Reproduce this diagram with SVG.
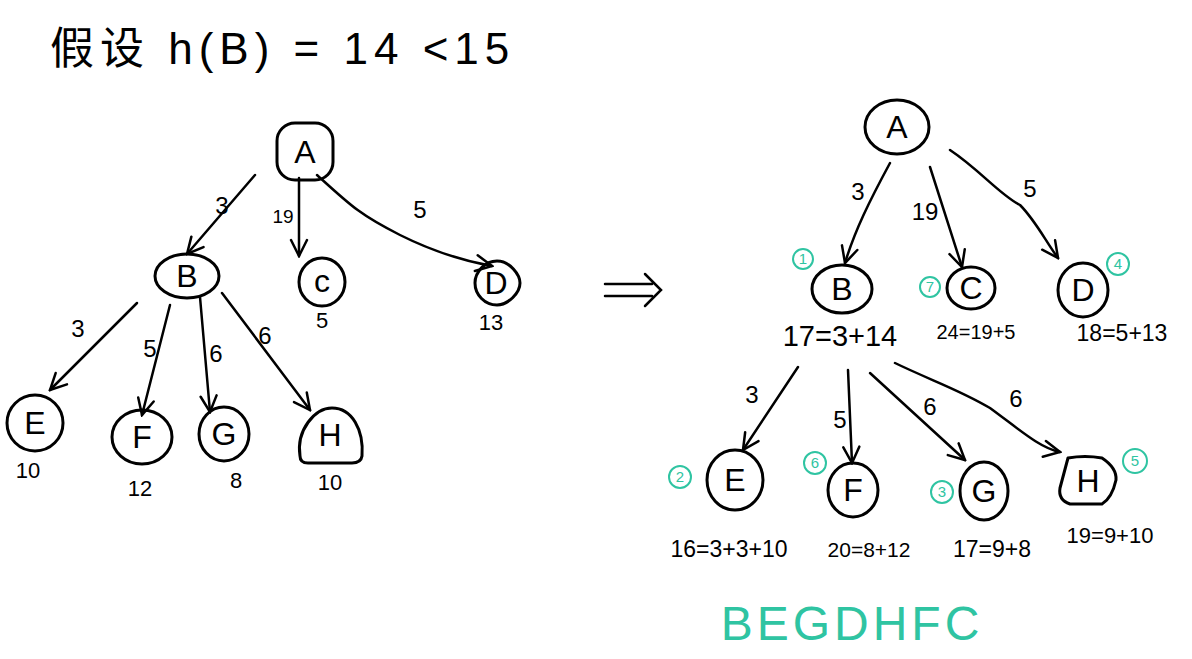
<svg xmlns="http://www.w3.org/2000/svg" width="1192" height="659" viewBox="0 0 1192 659">
<style>
.n{fill:none;stroke:#000;stroke-width:3;stroke-linejoin:round}
.e{fill:none;stroke:#000;stroke-width:2.5;stroke-linecap:round}
.t{font-family:"Liberation Sans","Noto Sans CJK SC",sans-serif;fill:#000;text-anchor:middle}
.lbl{font-size:32px}
.w{font-size:22px}
.v{font-size:24px}
.g{fill:none;stroke:#2fc4a2;stroke-width:2}
.gt{font-family:"Liberation Sans",sans-serif;fill:#2fc4a2;text-anchor:middle;font-size:15px}
</style>
<defs>
<marker id="ah" viewBox="0 0 20 20" refX="18" refY="10" markerWidth="20" markerHeight="20" markerUnits="userSpaceOnUse" orient="auto">
<path d="M2,2 L18,10 L2,18" fill="none" stroke="#000" stroke-width="2.5" stroke-linecap="round"/>
</marker>
</defs>
<rect width="1192" height="659" fill="#fff"/>
<text x="50" y="64" font-family="'Liberation Sans','Noto Sans CJK SC',sans-serif" font-size="44" letter-spacing="6" fill="#000">假设 h(B) = 14 &lt;15</text>

<g id="connectors">
<path class="e" d="M255,175 L187,254" marker-end="url(#ah)"/>
<path class="e" d="M299,178 L299,256" marker-end="url(#ah)"/>
<path class="e" d="M317,175 C350,205 360,215 400,235 C440,255 470,262 492,266" marker-end="url(#ah)"/>
<path class="e" d="M137,303 L50,390" marker-end="url(#ah)"/>
<path class="e" d="M170,305 L142,415" marker-end="url(#ah)"/>
<path class="e" d="M200,297 L210,412" marker-end="url(#ah)"/>
<path class="e" d="M222,293 L310,410" marker-end="url(#ah)"/>
<path class="e" d="M890,163 C870,200 855,230 845,263" marker-end="url(#ah)"/>
<path class="e" d="M930,167 L962,267" marker-end="url(#ah)"/>
<path class="e" d="M950,150 C980,170 1000,195 1020,205 C1035,220 1045,240 1058,258" marker-end="url(#ah)"/>
<path class="e" d="M798,367 L743,450" marker-end="url(#ah)"/>
<path class="e" d="M848,370 L852,463" marker-end="url(#ah)"/>
<path class="e" d="M870,373 L965,460" marker-end="url(#ah)"/>
<path class="e" d="M895,363 C930,380 960,390 990,408 C1020,430 1040,448 1060,452" marker-end="url(#ah)"/>
</g>

<g id="edge-labels">
<text class="t v" x="222" y="214">3</text>
<text class="t" x="283" y="223" font-size="19">19</text>
<text class="t v" x="420" y="218">5</text>
<text class="t v" x="78" y="337">3</text>
<text class="t v" x="150" y="357">5</text>
<text class="t v" x="216" y="362">6</text>
<text class="t v" x="265" y="344">6</text>
<text class="t v" x="858" y="200">3</text>
<text class="t v" x="925" y="220">19</text>
<text class="t v" x="1030" y="197">5</text>
<text class="t v" x="752" y="403">3</text>
<text class="t v" x="840" y="428">5</text>
<text class="t v" x="930" y="415">6</text>
<text class="t v" x="1016" y="407">6</text>
</g>

<g id="arrow-implies">
<path class="e" d="M605,284 L652,284 M605,296 L652,296 M645,274 L661,290 L645,306"/>
</g>

<g id="L-A"><rect class="n" x="277" y="123" width="56" height="57" rx="18"/><text class="t lbl" x="305" y="163">A</text></g>
<g id="L-B"><ellipse class="n" cx="187" cy="276" rx="32" ry="22"/><text class="t lbl" x="187" y="287">B</text></g>
<g id="L-C"><ellipse class="n" cx="322" cy="282" rx="23" ry="24"/><text class="t lbl" x="322" y="292">c</text><text class="t w" x="322" y="328">5</text></g>
<g id="L-D"><path class="n" d="M497,261 C510,261 520,275 520,283 C520,293 508,305 497,305 C485,305 475,295 475,283 C475,272 485,261 497,261 Z"/><text class="t lbl" x="496" y="294">D</text><text class="t w" x="491" y="330">13</text></g>
<g id="L-E"><ellipse class="n" cx="35" cy="423" rx="28" ry="28"/><text class="t lbl" x="35" y="434">E</text><text class="t w" x="28" y="478">10</text></g>
<g id="L-F"><ellipse class="n" cx="142" cy="437" rx="30" ry="27"/><text class="t lbl" x="142" y="448">F</text><text class="t w" x="140" y="496">12</text></g>
<g id="L-G"><ellipse class="n" cx="224" cy="434" rx="25" ry="27"/><text class="t lbl" x="224" y="445">G</text><text class="t w" x="236" y="488">8</text></g>
<g id="L-H"><path class="n" d="M300,456 C296,430 315,408 332,408 C352,408 364,430 362,456 Q361,463 352,463 L308,463 Q300,463 300,456 Z"/><text class="t lbl" x="330" y="446">H</text><text class="t w" x="330" y="490">10</text></g>

<g id="R-A"><ellipse class="n" cx="897" cy="127" rx="32" ry="27"/><text class="t lbl" x="897" y="138">A</text></g>
<g id="R-B"><ellipse class="n" cx="842" cy="289" rx="30" ry="24"/><text class="t lbl" x="842" y="300">B</text><text class="t" x="840" y="346" font-size="29">17=3+14</text></g>
<g id="R-C"><ellipse class="n" cx="971" cy="288" rx="24" ry="21"/><text class="t lbl" x="971" y="299">C</text><text class="t" x="976" y="339" font-size="20">24=19+5</text></g>
<g id="R-D"><ellipse class="n" cx="1083" cy="290" rx="25" ry="27"/><text class="t lbl" x="1083" y="301">D</text><text class="t" x="1122" y="341" font-size="23">18=5+13</text></g>
<g id="R-E"><ellipse class="n" cx="735" cy="480" rx="28" ry="30"/><text class="t lbl" x="735" y="491">E</text><text class="t" x="729" y="557" font-size="23">16=3+3+10</text></g>
<g id="R-F"><ellipse class="n" cx="853" cy="490" rx="25" ry="27"/><text class="t lbl" x="853" y="501">F</text><text class="t" x="869" y="557" font-size="21">20=8+12</text></g>
<g id="R-G"><ellipse class="n" cx="984" cy="491" rx="24" ry="29"/><text class="t lbl" x="984" y="502">G</text><text class="t" x="992" y="557" font-size="23">17=9+8</text></g>
<g id="R-H"><path class="n" d="M1068,458 Q1085,455 1102,458 Q1117,468 1116,480 Q1112,498 1102,504 L1070,504 Q1058,500 1060,488 Z"/><text class="t lbl" x="1088" y="492">H</text><text class="t" x="1110" y="543" font-size="22">19=9+10</text></g>

<g id="order-marks">
<circle class="g" cx="803" cy="259" r="10"/><text class="gt" x="803" y="264">1</text>
<circle class="g" cx="930" cy="287" r="10"/><text class="gt" x="930" y="292">7</text>
<circle class="g" cx="1118" cy="264" r="11"/><text class="gt" x="1118" y="269">4</text>
<circle class="g" cx="680" cy="477" r="11"/><text class="gt" x="680" y="482">2</text>
<circle class="g" cx="815" cy="463" r="11"/><text class="gt" x="815" y="468">6</text>
<circle class="g" cx="942" cy="492" r="11"/><text class="gt" x="942" y="497">3</text>
<circle class="g" cx="1135" cy="461" r="12"/><text class="gt" x="1135" y="466">5</text>
</g>

<text x="852" y="640" font-family="'Liberation Sans',sans-serif" font-size="48" fill="#2fc4a2" text-anchor="middle" letter-spacing="4">BEGDHFC</text>
</svg>
